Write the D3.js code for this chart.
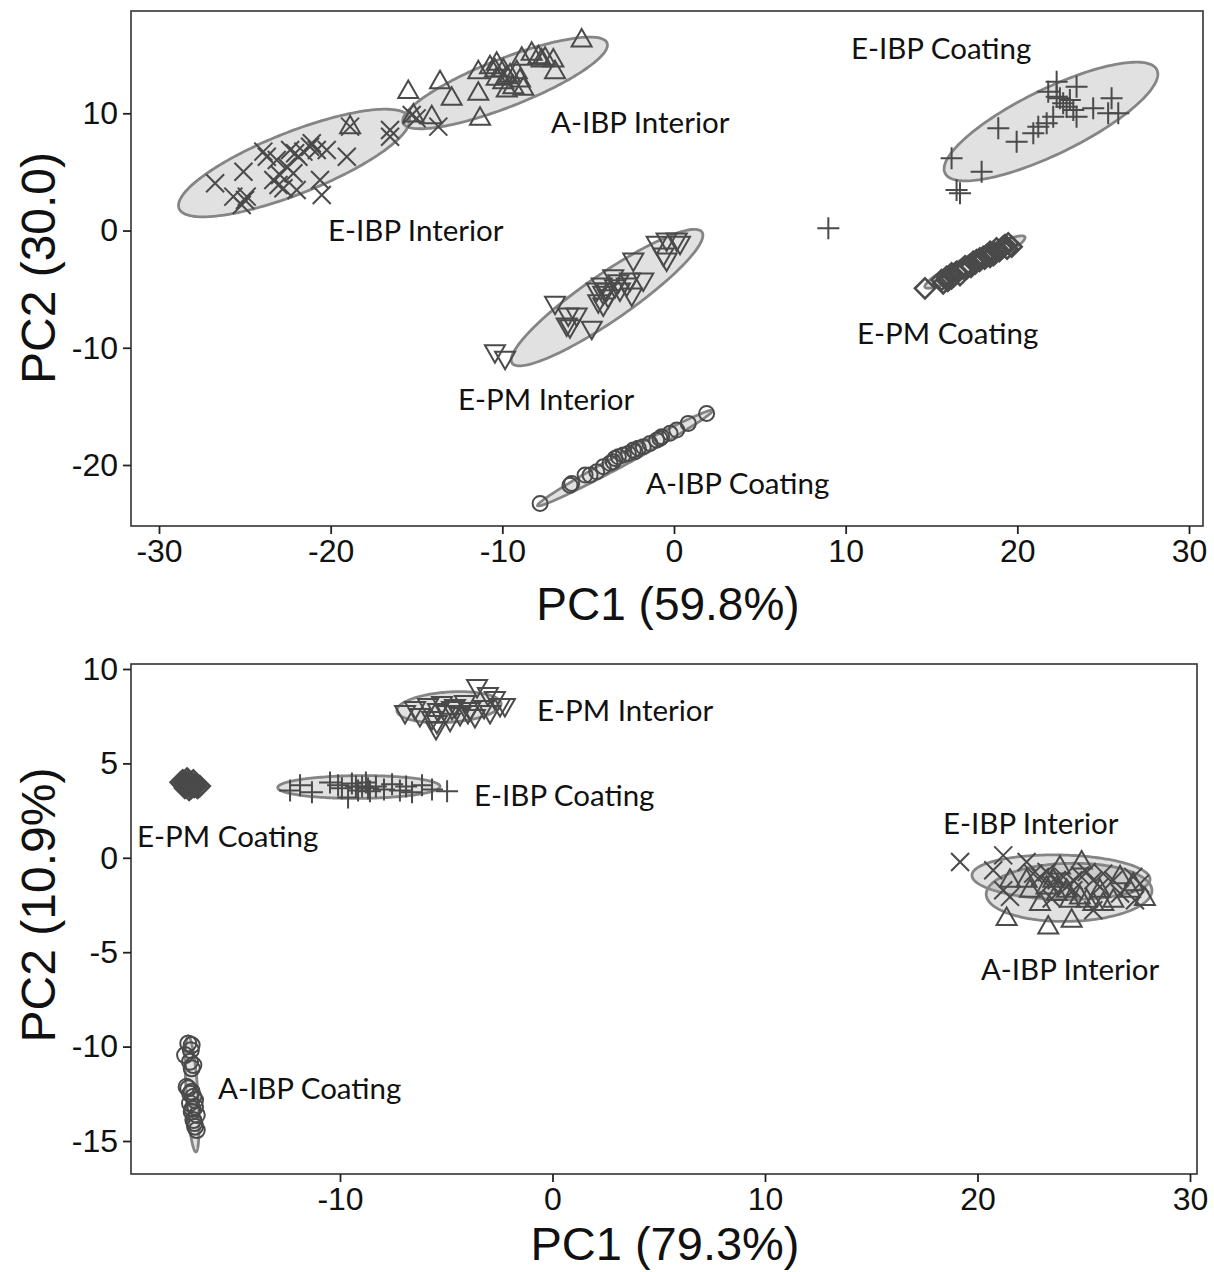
<!DOCTYPE html>
<html><head><meta charset="utf-8">
<script src="https://cdn.jsdelivr.net/npm/d3@7"></script>
<style>
body{margin:0;background:#fff;}
svg{display:block;}
</style></head>
<body>
<svg id="chart" width="1214" height="1272"></svg>
<script>
// ---------------- DATA: top panel (PC1 59.8%, PC2 30.0) ----------------
const topXTicks = [-30, -20, -10, 0, 10, 20, 30];
const topYTicks = [-20, -10, 0, 10];
const topXTitle = "PC1 (59.8%)";
const topYTitle = "PC2 (30.0)";

const topEIBPInterior = [[-26.73,4.03],[-25.08,5.02],[-25.67,2.89],[-24.99,2.60],[-25.18,2.18],[-24.89,2.89],[-23.92,6.73],[-23.72,6.30],[-23.14,6.02],[-23.34,4.31],[-23.04,3.88],[-22.75,3.60],[-22.56,5.44],[-22.36,6.87],[-22.07,6.59],[-21.88,6.30],[-22.17,4.88],[-21.98,3.46],[-21.59,6.73],[-21.20,7.15],[-20.81,6.87],[-20.23,6.87],[-20.62,4.31],[-20.52,3.03],[-19.06,6.30],[-18.87,8.86],[-16.54,8.58],[-16.54,8.00],[-15.28,9.86],[-14.99,9.57],[-13.73,8.86],[-22.95,4.74],[-21.10,7.44]];
const topAIBPInterior = [[-15.48,11.85],[-13.63,12.70],[-12.95,11.28],[-11.40,11.70],[-11.30,9.57],[-14.11,9.71],[-15.18,9.86],[-11.40,13.55],[-10.72,13.98],[-10.43,13.69],[-10.33,12.99],[-9.94,12.70],[-9.74,11.99],[-9.36,12.27],[-8.97,12.84],[-8.78,12.13],[-8.87,14.69],[-8.29,15.12],[-7.90,14.83],[-7.71,14.55],[-7.51,14.69],[-7.03,14.55],[-6.93,13.55],[-5.38,16.25],[-9.55,13.27],[-9.94,13.69],[-10.33,14.26],[-9.16,13.55],[-18.87,8.86],[-9.74,13.12]];
const topEIBPCoating = [[22.29,12.70],[23.45,12.27],[21.80,11.84],[22.48,11.28],[22.67,10.85],[22.87,10.56],[23.26,10.28],[23.45,9.71],[24.42,10.43],[25.49,11.28],[25.88,10.00],[25.29,10.00],[22.09,9.71],[21.71,9.15],[21.22,8.86],[20.93,8.29],[19.96,7.58],[18.89,8.72],[16.17,6.16],[17.92,5.02],[16.46,3.46],[16.66,3.17],[8.99,0.19],[23.06,11.13],[22.29,11.42]];
const topEPMCoating = [[14.62,-4.93],[15.59,-4.22],[15.88,-3.94],[16.17,-4.08],[16.46,-3.52],[16.85,-3.23],[17.24,-2.94],[17.63,-2.52],[18.02,-2.24],[18.41,-1.81],[18.79,-1.52],[19.18,-1.38],[19.47,-1.09],[16.66,-3.80],[17.43,-2.66],[18.21,-2.09],[18.70,-1.95],[19.09,-1.52],[16.17,-3.65],[17.82,-2.37],[17.05,-3.23],[19.28,-1.24],[19.67,-1.38],[15.68,-4.50],[18.41,-2.24],[16.95,-3.05],[17.55,-2.80],[18.10,-2.40],[18.95,-1.75],[17.30,-3.10],[16.30,-3.90],[15.95,-4.30],[18.60,-2.10],[19.40,-1.55],[17.80,-2.60]];
const topEPMInterior = [[-10.43,-10.34],[-9.84,-10.90],[-6.93,-6.21],[-6.16,-7.21],[-5.67,-7.21],[-6.25,-8.06],[-6.06,-8.21],[-4.79,-8.34],[-4.50,-5.08],[-4.21,-4.65],[-4.41,-6.08],[-4.12,-5.36],[-3.83,-5.65],[-3.54,-3.94],[-3.24,-4.37],[-3.15,-5.08],[-2.56,-4.22],[-2.37,-2.52],[-2.46,-5.50],[-1.79,-4.22],[-1.01,-1.09],[-0.43,-0.81],[0.16,-0.81],[0.35,-1.09],[-0.43,-2.52],[-0.62,-2.09],[-3.92,-5.08],[-3.44,-4.80],[-4.12,-6.36],[-2.75,-4.65]];
const topAIBPCoating = [[-7.80,-23.28],[-5.96,-21.57],[-5.18,-20.86],[-4.89,-20.86],[-4.50,-20.58],[-4.12,-20.15],[-3.73,-19.86],[-3.44,-19.44],[-3.24,-19.30],[-2.95,-19.15],[-2.66,-19.01],[-2.37,-18.73],[-2.08,-18.58],[-1.79,-18.45],[-1.40,-18.16],[-1.01,-17.88],[-0.72,-17.59],[-0.23,-17.30],[0.16,-17.02],[0.83,-16.45],[1.90,-15.60],[-6.06,-21.72],[-3.54,-19.73],[-2.27,-18.87],[-0.82,-17.73]];

// ellipse: [group, centerX, centerY, tipX, tipY, minor/major ratio]
const topEllipses = [
  ["E-IBP Interior", -22.13, 5.76, -15.43, 9.64, 0.25],
  ["A-IBP Interior", -9.84, 12.59, -3.90, 16.0, 0.22],
  ["E-IBP Coating", 21.96, 9.30, 28.13, 13.71, 0.275],
  ["E-PM Coating", 17.53, -2.69, 20.44, -0.55, 0.15],
  ["E-PM Interior", -3.90, -5.72, 1.63, -0.13, 0.2],
  ["A-IBP Coating", -2.85, -19.41, 2.25, -15.35, 0.06]
];
// labels: [text, x (left), y (middle)]
const topLabels = [
  ["A-IBP Interior", -7.16, 9.17],
  ["E-IBP Interior", -20.15, -0.04],
  ["E-IBP Coating", 10.31, 15.49],
  ["E-PM Coating", 10.66, -8.83],
  ["E-PM Interior", -12.58, -14.46],
  ["A-IBP Coating", -1.63, -21.63]
];

// ---------------- DATA: bottom panel (PC1 79.3%, PC2 10.9%) ----------------
const botXTicks = [-10, 0, 10, 20, 30];
const botYTicks = [-15, -10, -5, 0, 5, 10];
const botXTitle = "PC1 (79.3%)";
const botYTitle = "PC2 (10.9%)";

const botEPMInterior = [[-6.94,7.70],[-6.47,7.91],[-6.24,7.54],[-5.86,8.07],[-5.67,7.38],[-5.39,7.80],[-5.20,8.17],[-5.01,7.70],[-4.82,7.28],[-4.59,8.02],[-4.35,7.59],[-4.12,8.23],[-3.88,7.86],[-3.65,7.49],[-3.55,9.07],[-3.22,7.96],[-2.94,7.70],[-2.71,8.44],[-2.47,8.07],[-2.24,8.07],[-5.44,7.17],[-4.73,7.91],[-3.98,7.70],[-5.48,6.85],[-3.04,8.65]];
const botEIBPCoating = [[-12.35,3.57],[-11.88,3.84],[-11.32,3.47],[-10.47,3.99],[-9.91,3.68],[-9.62,3.20],[-9.44,3.94],[-9.15,3.57],[-8.96,3.78],[-8.78,3.99],[-8.59,3.52],[-8.31,3.78],[-7.93,3.62],[-7.55,3.89],[-7.18,3.57],[-6.89,3.78],[-6.61,3.47],[-6.14,3.84],[-5.67,3.62],[-4.96,3.52],[-10.09,3.84],[-9.25,3.78],[-8.68,3.68]];
const botEPMCoating = [[-17.4,4.1],[-17.3,4.0],[-17.2,3.9],[-17.1,3.8],[-17.0,3.7],[-16.9,3.8],[-17.3,3.7],[-17.0,4.0],[-16.7,3.7],[-17.4,3.9],[-17.2,4.2],[-16.8,3.9],[-17.1,3.6],[-16.6,3.8],[-17.5,4.0],[-16.9,4.1],[-17.25,3.85],[-17.05,3.95],[-16.85,3.75],[-17.35,4.05],[-16.75,3.85],[-17.15,4.05]];
const botAIBPCoating = [[-17.14,-9.83],[-16.98,-9.92],[-17.29,-10.45],[-17.06,-10.80],[-16.98,-11.15],[-17.14,-12.21],[-16.98,-12.39],[-16.90,-12.66],[-17.06,-13.00],[-16.82,-13.19],[-16.98,-13.45],[-16.74,-13.62],[-16.90,-13.89],[-16.82,-14.24],[-16.74,-14.42],[-17.22,-12.13],[-16.82,-12.83],[-17.02,-10.19],[-16.90,-10.98],[-17.05,-12.50],[-16.95,-13.30],[-16.85,-14.05]];
const botEIBPInterior = [[19.18,-0.22],[21.21,0.13],[20.74,-0.66],[22.31,-0.22],[22.62,-0.84],[22.94,-1.01],[23.25,-0.75],[23.41,-1.37],[23.73,-1.19],[24.04,-1.01],[24.20,-1.54],[24.51,-1.19],[24.82,-0.93],[25.14,-0.75],[25.45,-1.19],[25.76,-1.54],[25.92,-0.84],[26.39,-1.19],[26.71,-1.89],[27.33,-1.01],[27.65,-1.37],[21.53,-2.07],[21.21,-1.72],[25.45,-2.78],[23.49,-2.16],[27.41,-2.25],[24.51,-1.72]];
const botAIBPInterior = [[21.37,-3.22],[23.33,-3.66],[24.43,-3.31],[24.90,-0.22],[23.88,-0.49],[21.53,-1.19],[22.31,-1.19],[22.94,-2.42],[23.25,-1.54],[23.73,-1.89],[24.20,-1.72],[25.14,-2.25],[25.45,-2.42],[25.76,-1.72],[26.39,-2.25],[26.71,-1.01],[27.33,-1.37],[27.88,-2.16],[24.82,-2.07],[25.92,-2.42],[24.35,-2.25],[23.57,-1.19],[22.47,-1.72],[27.18,-1.72]];

const botEllipses = [
  ["E-PM Interior", -4.87, 7.98, -2.42, 8.17, 0.29],
  ["E-IBP Coating", -9.11, 3.75, -5.29, 3.78, 0.14],
  ["E-PM Coating", -17.1, 3.9, -16.6, 3.75, 0.5],
  ["A-IBP Coating", -16.96, -12.51, -16.78, -15.58, 0.1],
  ["E-IBP Interior", 23.93, -1.03, 28.12, -1.14, 0.25],
  ["A-IBP Interior", 24.31, -1.83, 28.21, -1.72, 0.35]
];
const botLabels = [
  ["E-PM Interior", -0.73, 7.80],
  ["E-IBP Coating", -3.69, 3.31],
  ["E-PM Coating", -19.55, 1.14],
  ["E-IBP Interior", 18.38, 1.83],
  ["A-IBP Interior", 20.16, -5.90],
  ["A-IBP Coating", -15.74, -12.25]
];

// ---------------- drawing ----------------
const svg = d3.select("#chart");
const MARK = "#4a4a4a";

const shapes = {
  times: s => `M${-s},${-s}L${s},${s}M${-s},${s}L${s},${-s}`,
  plus: s => `M${-s},0L${s},0M0,${-s}L0,${s}`,
  up: s => `M0,${-s*1.1}L${-s},${s*0.65}L${s},${s*0.65}Z`,
  down: s => `M0,${s*1.1}L${-s},${-s*0.65}L${s},${-s*0.65}Z`,
  diamond: s => `M0,${-s}L${s},0L0,${s}L${-s},0Z`,
  circle: s => `M${s},0A${s},${s} 0 1,1 ${-s},0A${s},${s} 0 1,1 ${s},0Z`
};

function panel(cfg) {
  const x = d3.scaleLinear().domain(cfg.xDom).range(cfg.xRange);
  const y = d3.scaleLinear().domain(cfg.yDom).range(cfg.yRange);
  const g = svg.append("g");
  const [fx0, fx1] = cfg.frameX, [fy0, fy1] = cfg.frameY;

  // ellipses
  const line = d3.line().curve(d3.curveLinearClosed);
  cfg.ellipses.forEach(e => {
    const cx = x(e[1]), cy = y(e[2]);
    const ax = x(e[3]) - cx, ay = y(e[4]) - cy;
    const bx = -ay * e[5], by = ax * e[5];
    const pts = d3.range(0, 2 * Math.PI, Math.PI / 90).map(t =>
      [cx + ax * Math.cos(t) + bx * Math.sin(t), cy + ay * Math.cos(t) + by * Math.sin(t)]);
    g.append("path").attr("d", line(pts))
      .attr("fill", "#9a9a9a").attr("fill-opacity", 0.3)
      .attr("stroke", "#858585").attr("stroke-width", 2.8);
  });

  // points
  cfg.series.forEach(s => {
    g.append("g").selectAll("path").data(s.data).join("path")
      .attr("transform", d => `translate(${x(d[0])},${y(d[1])})`)
      .attr("d", shapes[s.shape](s.size))
      .attr("fill", "none").attr("stroke", MARK).attr("stroke-width", s.sw || 2);
  });

  // labels
  g.append("g").selectAll("text").data(cfg.labels).join("text")
    .attr("x", d => x(d[1])).attr("y", d => y(d[2]))
    .attr("dy", "0.35em")
    .attr("font-family", "Lato, 'Open Sans', sans-serif")
    .attr("font-size", 29.5).attr("fill", "#111")
    .text(d => d[0]);

  // frame
  g.append("rect").attr("x", fx0).attr("y", fy0)
    .attr("width", fx1 - fx0).attr("height", fy1 - fy0)
    .attr("fill", "none").attr("stroke", "#333").attr("stroke-width", 1.6);

  // axes
  const xa = g.append("g").attr("transform", `translate(0,${fy1})`)
    .call(d3.axisBottom(x).tickValues(cfg.xTicks).tickSize(8).tickSizeOuter(0).tickPadding(5));
  const ya = g.append("g").attr("transform", `translate(${fx0},0)`)
    .call(d3.axisLeft(y).tickValues(cfg.yTicks).tickSize(8).tickSizeOuter(0).tickPadding(5));
  [xa, ya].forEach(a => {
    a.select(".domain").remove();
    a.selectAll(".tick line").attr("stroke", "#222").attr("stroke-width", 1.8);
    a.selectAll(".tick text").attr("font-family", "'Liberation Sans', Arial, sans-serif")
      .attr("font-size", 32).attr("fill", "#111")
      .text(d => d < 0 ? "-" + Math.abs(d) : String(d));
  });

  // titles
  g.append("text").attr("x", cfg.xTitlePos[0]).attr("y", cfg.xTitlePos[1])
    .attr("text-anchor", "middle").attr("dy", "0.35em")
    .attr("font-family", "'Liberation Sans', Arial, sans-serif").attr("font-size", cfg.xTitleSize).attr("fill", "#111")
    .text(cfg.xTitle);
  g.append("text").attr("transform", `translate(${cfg.yTitlePos[0]},${cfg.yTitlePos[1]}) rotate(-90)`)
    .attr("text-anchor", "middle").attr("dy", "0.35em")
    .attr("font-family", "'Liberation Sans', Arial, sans-serif").attr("font-size", cfg.yTitleSize).attr("fill", "#111")
    .text(cfg.yTitle);
}

panel({
  xDom: [-30, 30], xRange: [159, 1189],
  yDom: [-20, 10], yRange: [465, 113.3],
  frameX: [131, 1203], frameY: [11, 526],
  xTicks: topXTicks, yTicks: topYTicks,
  xTitle: topXTitle, yTitle: topYTitle, xTitleSize: 46, yTitleSize: 48,
  xTitlePos: [668, 604], yTitlePos: [38, 268],
  ellipses: topEllipses, labels: topLabels,
  series: [
    { data: topEIBPInterior, shape: "times", size: 9 },
    { data: topAIBPInterior, shape: "up", size: 10 },
    { data: topEIBPCoating, shape: "plus", size: 11 },
    { data: topEPMCoating, shape: "diamond", size: 10, sw: 2.6 },
    { data: topEPMInterior, shape: "down", size: 10 },
    { data: topAIBPCoating, shape: "circle", size: 7.5 }
  ]
});

panel({
  xDom: [-10, 30], xRange: [340, 1190],
  yDom: [-15, 10], yRange: [1141, 669],
  frameX: [131, 1197], frameY: [664, 1174],
  xTicks: botXTicks, yTicks: botYTicks,
  xTitle: botXTitle, yTitle: botYTitle, xTitleSize: 47, yTitleSize: 48,
  xTitlePos: [665, 1244], yTitlePos: [38, 905],
  ellipses: botEllipses, labels: botLabels,
  series: [
    { data: botEIBPInterior, shape: "times", size: 9 },
    { data: botAIBPInterior, shape: "up", size: 10 },
    { data: botEIBPCoating, shape: "plus", size: 11 },
    { data: botEPMCoating, shape: "diamond", size: 10, sw: 2.6 },
    { data: botEPMInterior, shape: "down", size: 10 },
    { data: botAIBPCoating, shape: "circle", size: 8 }
  ]
});
</script>
</body></html>
